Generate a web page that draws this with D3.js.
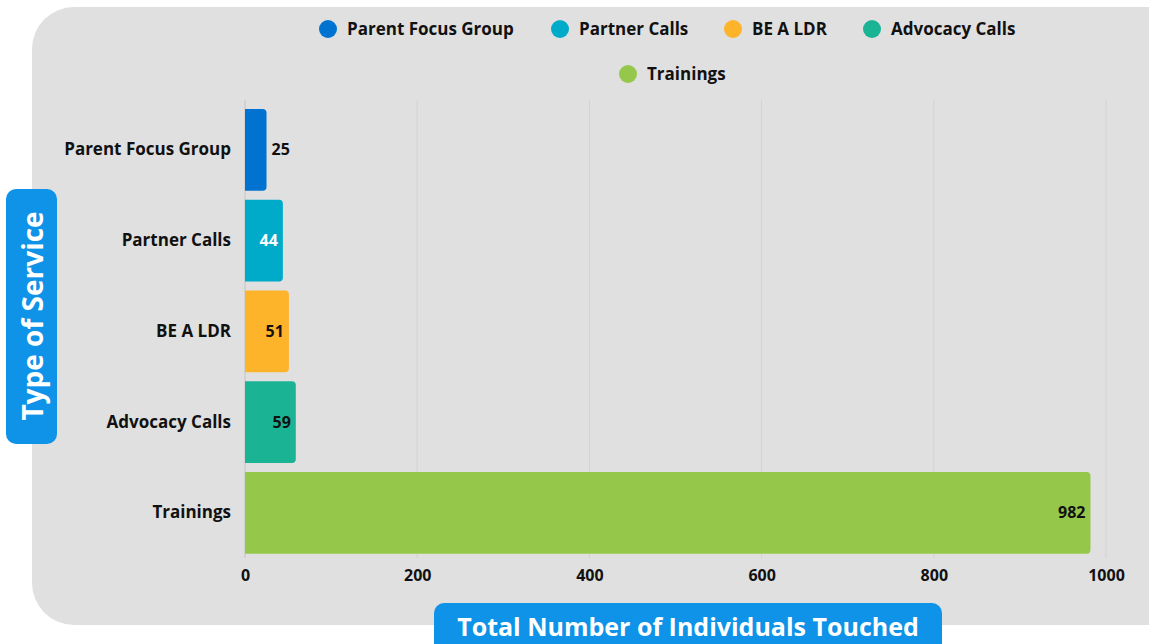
<!DOCTYPE html>
<html><head><meta charset="utf-8">
<script src="https://cdn.jsdelivr.net/npm/d3@7"></script>
<style>body{margin:0;background:#fff;} svg{display:block;font-family:"Open Sans",Lato,sans-serif;}</style>
</head><body><svg id="c" width="1149" height="644"></svg>
<script>
const categories = ["Parent Focus Group","Partner Calls","BE A LDR","Advocacy Calls","Trainings"];
const values = [25,44,51,59,982];
const colors = ["#0073d1","#00aac9","#fdb32a","#1ab394","#95c84a"];
const labelColors = ["#111","#fff","#111","#111","#111"];
const xTicks = [0,200,400,600,800,1000];

const svg = d3.select("#c");
svg.append("rect").attr("x",32).attr("y",7).attr("width",1160).attr("height",618).attr("rx",42).attr("fill","#e0e0e0");

const x = d3.scaleLinear().domain([0,1000]).range([245,1106]);
const y = d3.scaleBand().domain(categories).range([104.5,558.2]).paddingInner(0.1).paddingOuter(0.05);

// grid
svg.append("g").selectAll("line").data(xTicks.slice(1)).join("line")
  .attr("x1",d=>x(d)).attr("x2",d=>x(d)).attr("y1",100).attr("y2",558)
  .attr("stroke","#d2d2d2").attr("stroke-width",1);
svg.append("line").attr("x1",x(0)).attr("x2",x(0)).attr("y1",100).attr("y2",558).attr("stroke","#c4c4c4");

// bars with rounded right corners
const r = 4;
svg.append("g").selectAll("path").data(categories).join("path")
  .attr("fill",(d,i)=>colors[i])
  .attr("d",(d,i)=>{
    const x0=x(0), x1=x(values[i]), y0=y(d), h=y.bandwidth();
    return `M${x0},${y0}H${x1-r}Q${x1},${y0} ${x1},${y0+r}V${y0+h-r}Q${x1},${y0+h} ${x1-r},${y0+h}H${x0}Z`;
  });

// value labels
svg.append("g").selectAll("text").data(categories).join("text")
  .attr("x",(d,i)=> i===0 ? x(values[i])+5 : x(values[i])-5)
  .attr("text-anchor",(d,i)=> i===0 ? "start" : "end")
  .attr("y",d=>y(d)+y.bandwidth()/2).attr("dy","0.35em")
  .attr("font-size",16).attr("font-weight",700)
  .attr("fill",(d,i)=>labelColors[i])
  .text((d,i)=>values[i]);

// y axis labels
const ya = svg.append("g").attr("transform",`translate(${x(0)},0)`)
  .call(d3.axisLeft(y).tickSize(0).tickPadding(14));
ya.select(".domain").remove();
ya.selectAll("text").attr("font-size",17).attr("font-weight",700).attr("fill","#111").attr("font-family","'Open Sans',sans-serif");

// x axis labels
const xa = svg.append("g").attr("transform",`translate(0,561)`)
  .call(d3.axisBottom(x).tickValues(xTicks).tickFormat(d3.format("d")).tickSize(0).tickPadding(9));
xa.select(".domain").remove();
xa.selectAll("text").attr("font-size",16).attr("font-weight",700).attr("fill","#111").attr("font-family","'Open Sans',sans-serif");

// legend
const legendPos = [[328,29],[560,29],[733,29],[872,29],[628,74]];
const lg = svg.append("g").selectAll("g").data(categories).join("g")
  .attr("transform",(d,i)=>`translate(${legendPos[i][0]},${legendPos[i][1]})`);
lg.append("circle").attr("r",9).attr("fill",(d,i)=>colors[i]);
lg.append("text").attr("x",19).attr("dy","0.35em").attr("font-size",17).attr("font-weight",700).attr("fill","#111").text(d=>d);

// axis titles
svg.append("rect").attr("x",6).attr("y",189).attr("width",51).attr("height",255).attr("rx",10).attr("fill","#0e93e8");
svg.append("text").attr("transform","translate(33,316) rotate(-90)").attr("text-anchor","middle").attr("dy","0.35em")
  .attr("font-size",28).attr("font-weight",700).attr("fill","#fff").text("Type of Service");
svg.append("rect").attr("x",434).attr("y",603).attr("width",508).attr("height",60).attr("rx",10).attr("fill","#0e93e8");
svg.append("text").attr("x",688).attr("y",627).attr("text-anchor","middle").attr("dy","0.35em")
  .attr("font-size",25).attr("font-weight",700).attr("fill","#fff").text("Total Number of Individuals Touched");
</script></body></html>
